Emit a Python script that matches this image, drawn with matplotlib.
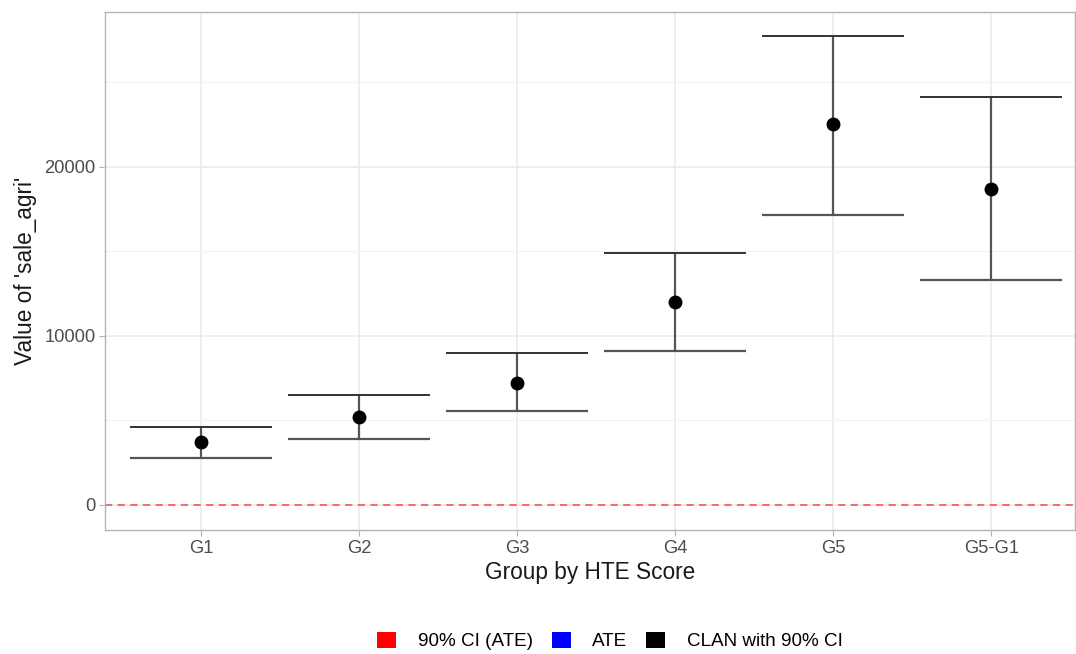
import matplotlib.pyplot as plt
from matplotlib.patches import Patch
from matplotlib.ticker import MultipleLocator

plt.rcParams['font.family'] = ['Liberation Sans', 'DejaVu Sans']

# Data
groups = ["G1", "G2", "G3", "G4", "G5", "G5-G1"]
estimate = [3730, 5210, 7220, 12010, 22540, 18700]
ci_lower = [2780, 3900, 5560, 9110, 17160, 13310]
ci_upper = [4620, 6510, 8990, 14910, 27750, 24140]
ate = 0

legend_labels = ["90% CI (ATE)", "ATE", "CLAN with 90% CI"]
legend_colors = ["#ff0000", "#0000ff", "#000000"]

fig = plt.figure(figsize=(10.76, 6.54), dpi=100)
ax = fig.add_axes([105 / 1076, 1 - 530 / 654, 970 / 1076, 518 / 654])

x = list(range(len(groups)))

# error bars, caps drawn as wide horizontal lines (width 0.9)
ax.vlines(x, ci_lower, ci_upper, color="#555555", lw=1.6, zorder=3)
ax.hlines(ci_lower, [i - 0.45 for i in x], [i + 0.45 for i in x], color="#555555", lw=1.6, zorder=3)
ax.hlines(ci_upper, [i - 0.45 for i in x], [i + 0.45 for i in x], color="#333333", lw=1.4, zorder=3)
ax.plot(x, estimate, "o", color="black", ms=9, zorder=4)

ax.axhline(ate, color="#ff0000", ls=(0, (4, 3)), lw=1.3, alpha=0.6, zorder=2)

ax.set_xlim(-0.61, 5.53)
ax.set_ylim(-1480, 29170)
ax.set_xticks(x)
ax.set_xticklabels(groups)
ax.yaxis.set_major_locator(MultipleLocator(10000))
ax.yaxis.set_minor_locator(MultipleLocator(5000))

ax.grid(True, which="major", color="#ebebeb", lw=1.2, zorder=0)
ax.grid(True, which="minor", axis="y", color="#f2f2f2", lw=0.8, zorder=0)
ax.set_axisbelow(True)
for s in ax.spines.values():
    s.set_color("#b3b3b3")
    s.set_linewidth(1.0)

ax.tick_params(axis="both", which="major", colors="#b3b3b3", length=4, labelsize=13.2,
               labelcolor="#4d4d4d", pad=3)
ax.tick_params(axis="y", which="minor", length=0)

ax.set_xlabel("Group by HTE Score", fontsize=16.3, color="#1a1a1a", labelpad=3)
ax.set_ylabel("Value of 'sale_agri'", fontsize=16.3, color="#1a1a1a", labelpad=5)

handles = [Patch(facecolor=c, edgecolor="none") for c in legend_colors]
fig.legend(handles, legend_labels, loc="center", bbox_to_anchor=(0.567, 1 - 641 / 654),
           ncol=3, frameon=False, fontsize=13.6, handlelength=1.0, handleheight=1.0,
           handletextpad=1.15, columnspacing=1.0)

fig.savefig("out.png", dpi=100)
